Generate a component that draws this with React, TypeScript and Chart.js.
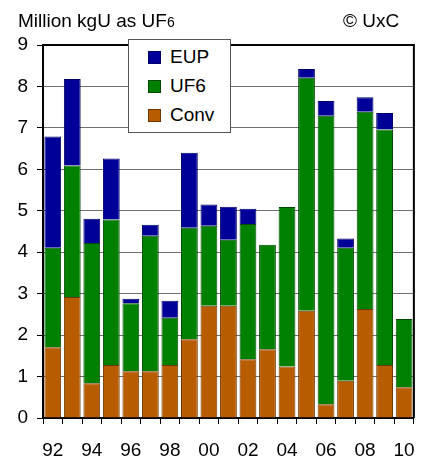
import React, { useEffect, useRef } from 'react';
import { Chart, registerables } from 'chart.js';

Chart.register(...registerables);

const years = ['92', '93', '94', '95', '96', '97', '98', '99', '00', '01', '02', '03', '04', '05', '06', '07', '08', '09', '10'];
const conv = [1.71, 2.92, 0.84, 1.28, 1.13, 1.13, 1.28, 1.9, 2.71, 2.71, 1.42, 1.66, 1.24, 2.59, 0.33, 0.9, 2.63, 1.28, 0.74];
const uf6 = [2.4, 3.17, 3.38, 3.51, 1.64, 3.27, 1.14, 2.69, 1.93, 1.59, 3.26, 2.52, 3.85, 5.62, 6.96, 3.21, 4.76, 5.68, 1.65];
const eup = [2.68, 2.09, 0.59, 1.47, 0.11, 0.26, 0.41, 1.81, 0.51, 0.8, 0.37, 0, 0, 0.21, 0.36, 0.22, 0.35, 0.4, 0];
const yTicks = [0, 1, 2, 3, 4, 5, 6, 7, 8, 9];

const FONT = '"Liberation Sans", Arial, Helvetica, sans-serif';
const C_CONV = '#B85C00';
const C_UF6 = '#008000';
const C_EUP = '#000099';

const nz = (arr: number[]) => arr.map((v) => (v === 0 ? null : v));

const framePlugin = {
  id: 'frame',
  afterDatasetsDraw(chart: any) {
    const { ctx, chartArea: a } = chart;
    ctx.save();
    ctx.strokeStyle = '#000';
    ctx.lineWidth = 2;
    ctx.beginPath();
    ctx.moveTo(a.left, a.top);
    ctx.lineTo(a.right, a.top);
    ctx.lineTo(a.right, a.bottom);
    ctx.stroke();
    ctx.restore();
  },
};

export default function App() {
  const ref = useRef<HTMLCanvasElement | null>(null);
  useEffect(() => {
    if (!ref.current) return;
    const chart = new Chart(ref.current, {
      type: 'bar',
      data: {
        labels: years,
        datasets: [
          { label: 'Conv', data: nz(conv), backgroundColor: C_CONV, borderColor: '#6e3700', borderWidth: 1, barPercentage: 0.86, categoryPercentage: 1 },
          { label: 'UF6', data: nz(uf6), backgroundColor: C_UF6, borderColor: '#004a00', borderWidth: 1, barPercentage: 0.86, categoryPercentage: 1 },
          { label: 'EUP', data: nz(eup), backgroundColor: C_EUP, borderColor: '#000066', borderWidth: 1, barPercentage: 0.86, categoryPercentage: 1 },
        ],
      },
      options: {
        animation: false,
        responsive: true,
        maintainAspectRatio: false,
        layout: { padding: { top: 45, right: 12, left: 0, bottom: 0 } },
        plugins: { legend: { display: false }, tooltip: { enabled: false } },
        scales: {
          x: {
            stacked: true,
            offset: true,
            grid: { drawOnChartArea: false, drawTicks: true, tickLength: 6, tickColor: '#000', offset: true },
            border: { color: '#000', width: 2 },
            ticks: {
              autoSkip: false,
              maxRotation: 0,
              padding: 15,
              color: '#000',
              font: { family: FONT, size: 19 },
              callback: (_v: any, i: number) => (i % 2 === 0 ? years[i] : ''),
            },
            afterFit: (s: any) => { s.height = 39; },
          },
          y: {
            stacked: true,
            min: 0,
            max: 9,
            afterBuildTicks: (s: any) => { s.ticks = yTicks.map((v) => ({ value: v })); },
            grid: { color: '#707070', lineWidth: 1, tickLength: 6, tickColor: '#000' },
            border: { color: '#000', width: 2 },
            ticks: { color: '#000', padding: 9, font: { family: FONT, size: 19 } },
            afterFit: (s: any) => { s.width = 43; },
          },
        },
      },
      plugins: [framePlugin],
    });
    return () => chart.destroy();
  }, []);

  const legendItems = [
    { label: 'EUP', color: C_EUP, border: '#000066' },
    { label: 'UF6', color: C_UF6, border: '#004a00' },
    { label: 'Conv', color: C_CONV, border: '#6e3700' },
  ];

  return (
    <div style={{ position: 'fixed', left: 0, top: 0, width: 430, height: 457, background: '#fff', fontFamily: FONT }}>
      <canvas ref={ref} style={{ position: 'absolute', left: 0, top: 0, width: 430, height: 457 }} />
      <div style={{ position: 'absolute', left: 18, top: 10, fontSize: 19, color: '#000', whiteSpace: 'nowrap', lineHeight: '22px' }}>
        Million kgU as UF<span style={{ fontSize: 14 }}>6</span>
      </div>
      <div style={{ position: 'absolute', left: 343, top: 10, fontSize: 19, color: '#000', whiteSpace: 'nowrap', lineHeight: '22px' }}>
        © UxC
      </div>
      <div style={{ position: 'absolute', left: 128, top: 39, width: 101, height: 92, background: '#fff', border: '1px solid #555' }}>
        {legendItems.map((it, i) => (
          <div key={it.label} style={{ position: 'absolute', left: 19, top: 5 + i * 29, height: 24, display: 'flex', alignItems: 'center', whiteSpace: 'nowrap' }}>
            <span style={{ display: 'inline-block', width: 11, height: 11, background: it.color, border: `1px solid ${it.border}` }} />
            <span style={{ marginLeft: 9, fontSize: 19, color: '#000' }}>{it.label}</span>
          </div>
        ))}
      </div>
    </div>
  );
}
